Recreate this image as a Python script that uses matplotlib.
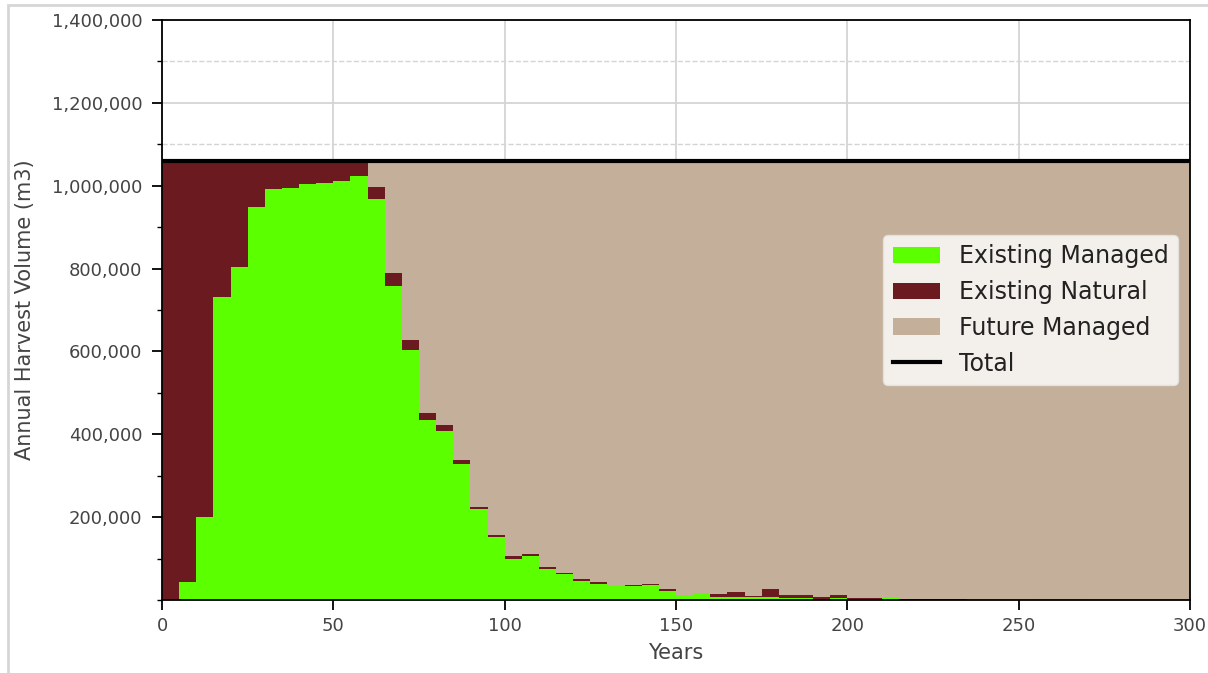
import numpy as np
import matplotlib
matplotlib.use('Agg')
import matplotlib.pyplot as plt
from matplotlib.patches import Rectangle
from matplotlib.ticker import MultipleLocator, FuncFormatter

# harvest periods (start year of each 5-year period)
years = list(range(0, 300, 5))

# annual harvest volume by source (m3)
existing_managed = [
    0, 44000, 200000, 731000, 803000, 949000, 992000, 994000, 1004000, 1007000,
    1012000, 1024000, 968000, 757000, 604000, 434000, 408000, 328000, 220000, 151000,
    100000, 106000, 76000, 62000, 46500, 38500, 36000, 35000, 37000, 22500,
    11000, 16000, 8000, 6500, 8000, 6500, 5000, 4000, 3000, 5000,
    2000, 2000, 4000, 0, 0, 0, 0, 0, 0, 0,
    0, 1500, 2500, 2500, 0, 0, 0, 0, 0, 0]

existing_natural = [
    1060000, 1016000, 860000, 329000, 257000, 111000, 68000, 66000, 56000, 53000,
    48000, 36000, 28000, 32000, 24000, 17000, 14000, 11000, 5000, 5000,
    6000, 5000, 4000, 2500, 3000, 4000, 1000, 1000, 1500, 3000,
    500, 2000, 6000, 12000, 2000, 20000, 6000, 8000, 5000, 6000,
    2000, 2000, 1000, 2000, 2000, 2000, 2000, 1000, 500, 500,
    500, 0, 0, 0, 0, 0, 0, 0, 0, 0]

future_managed = [
    0, 0, 0, 0, 0, 0, 0, 0, 0, 0,
    0, 0, 64000, 271000, 432000, 609000, 638000, 721000, 835000, 904000,
    954000, 949000, 980000, 995500, 1010500, 1017500, 1023000, 1024000, 1021500, 1034500,
    1048500, 1042000, 1046000, 1041500, 1050000, 1033500, 1049000, 1048000, 1052000, 1049000,
    1056000, 1056000, 1055000, 1058000, 1058000, 1058000, 1058000, 1059000, 1059500, 1059500,
    1059500, 1058500, 1057500, 1057500, 1060000, 1060000, 1060000, 1060000, 1060000, 1060000]

period_length = 5
col_em = '#5cff00'
col_en = '#6b1a20'
col_fm = '#c4b09a'
txt_col = '#444444'


def step_edges(vals):
    'repeat the last value so the step fill reaches the end of the final period'
    v = np.asarray(vals, dtype=float)
    return np.append(v, v[-1])


x = np.append(np.array(years), years[-1] + period_length)
em = step_edges(existing_managed)
en = step_edges(existing_natural)
fm = step_edges(future_managed)
total = em + en + fm

fig = plt.figure(figsize=(12.08, 6.73), dpi=100)
ax = fig.add_axes([162/1208, 1 - 600/673, 1028/1208, 580/673])

ax.fill_between(x, 0, em, step='post', color=col_em, lw=0, label='Existing Managed', zorder=2)
ax.fill_between(x, em, em + en, step='post', color=col_en, lw=0, label='Existing Natural', zorder=2)
ax.fill_between(x, em + en, total, step='post', color=col_fm, lw=0, label='Future Managed', zorder=2)
ax.step(x, total, where='post', color='black', lw=3, label='Total', zorder=3)

ax.set_xlim(0, 300)
ax.set_ylim(0, 1400000)
ax.set_xticks(range(0, 301, 50))
ax.set_yticks(range(200000, 1400001, 200000))
ax.yaxis.set_minor_locator(MultipleLocator(100000))
ax.yaxis.set_major_formatter(FuncFormatter(lambda v, p: f'{v:,.0f}'))

ax.grid(which='major', color='#d4d4d4', lw=1.3, zorder=0)
ax.grid(which='minor', axis='y', color='#d4d4d4', lw=1.0, ls='--', zorder=0)
ax.set_axisbelow(True)

ax.tick_params(which='major', length=7, width=1.3, pad=5, labelsize=13, labelcolor=txt_col)
ax.tick_params(axis='y', which='major', pad=7)
ax.tick_params(which='minor', length=3.5, width=1.0)
for s in ax.spines.values():
    s.set_linewidth(1.3)

ax.set_xlabel('Years', fontsize=15, color=txt_col, labelpad=6)
ax.set_ylabel('Annual Harvest Volume (m3)', fontsize=15, color=txt_col, labelpad=12)

leg = ax.legend(loc='center right', fontsize=17, framealpha=0.8)
leg.get_frame().set_edgecolor('#e6e6e6')
for t in leg.get_texts():
    t.set_color('#222222')

# thin grey frame around the figure
fig.patches.append(Rectangle((8/1208, -0.05), 1.2, (673 - 5)/673 + 0.05,
                             transform=fig.transFigure, fill=False,
                             edgecolor='#d6d6d6', lw=2))

fig.savefig('out.png', dpi=100)
